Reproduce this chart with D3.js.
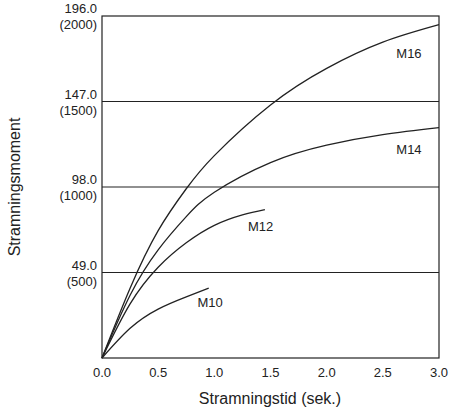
<!DOCTYPE html><html><head><meta charset="utf-8"><script src="https://cdn.jsdelivr.net/npm/d3@7"></script>
<style>body{margin:0;background:#fff}text{font-family:"Liberation Sans",Arial,sans-serif;fill:#222}</style></head><body>
<svg id="c" width="454" height="412"></svg>
<script>
const xTicks=[0,0.5,1.0,1.5,2.0,2.5,3.0];
const yTicks=[49,98,147,196];
const yTicks2=["(500)","(1000)","(1500)","(2000)"];
const seriesNames=["M16","M14","M12","M10"];
const M16=[[0,0],[0.25,40],[0.5,73],[0.75,97],[1.0,116],[1.5,145],[2.0,166],[2.5,181],[3.0,191]];
const M14=[[0,0],[0.25,36],[0.5,62],[0.75,81],[1.0,95],[1.5,112],[2.0,122],[2.5,128],[3.0,132]];
const M12=[[0,0],[0.25,31],[0.5,52],[0.75,66],[1.0,76],[1.25,82],[1.45,85]];
const M10=[[0,0],[0.25,17],[0.5,28],[0.75,35],[0.95,40]];
const series=[M16,M14,M12,M10];
const labelAt=[[2.62,172],[2.62,117],[1.3,73],[0.85,29]];
const svg=d3.select("#c");
const x=d3.scaleLinear().domain([0,3]).range([102,439]);
const y=d3.scaleLinear().domain([0,196]).range([358,16]);
svg.append("rect").attr("x",102).attr("y",16).attr("width",337).attr("height",342).attr("fill","none").attr("stroke","#222").attr("stroke-width",1.2);
yTicks.forEach((t,i)=>{
  if(t<196) svg.append("line").attr("x1",102).attr("x2",439).attr("y1",y(t)).attr("y2",y(t)).attr("stroke","#222").attr("stroke-width",1.2);
  svg.append("text").attr("x",97).attr("y",y(t)-3).attr("text-anchor","end").attr("font-size",13).text(t.toFixed(1));
  svg.append("text").attr("x",97).attr("y",y(t)+13).attr("text-anchor","end").attr("font-size",13).text(yTicks2[i]);
});
xTicks.forEach(t=>svg.append("text").attr("x",x(t)).attr("y",377).attr("text-anchor","middle").attr("font-size",13).text(t.toFixed(1)));
const line=d3.line().x(d=>x(d[0])).y(d=>y(d[1])).curve(d3.curveNatural);
series.forEach((s,i)=>{
  svg.append("path").attr("d",line(s)).attr("fill","none").attr("stroke","#222").attr("stroke-width",1.3);
  svg.append("text").attr("x",x(labelAt[i][0])).attr("y",y(labelAt[i][1])).attr("font-size",13).text(seriesNames[i]);
});
svg.append("text").attr("x",270).attr("y",404).attr("text-anchor","middle").attr("font-size",16).text("Stramningstid (sek.)");
svg.append("text").attr("transform","translate(20,187) rotate(-90)").attr("text-anchor","middle").attr("font-size",16).text("Stramningsmoment");
</script></body></html>
